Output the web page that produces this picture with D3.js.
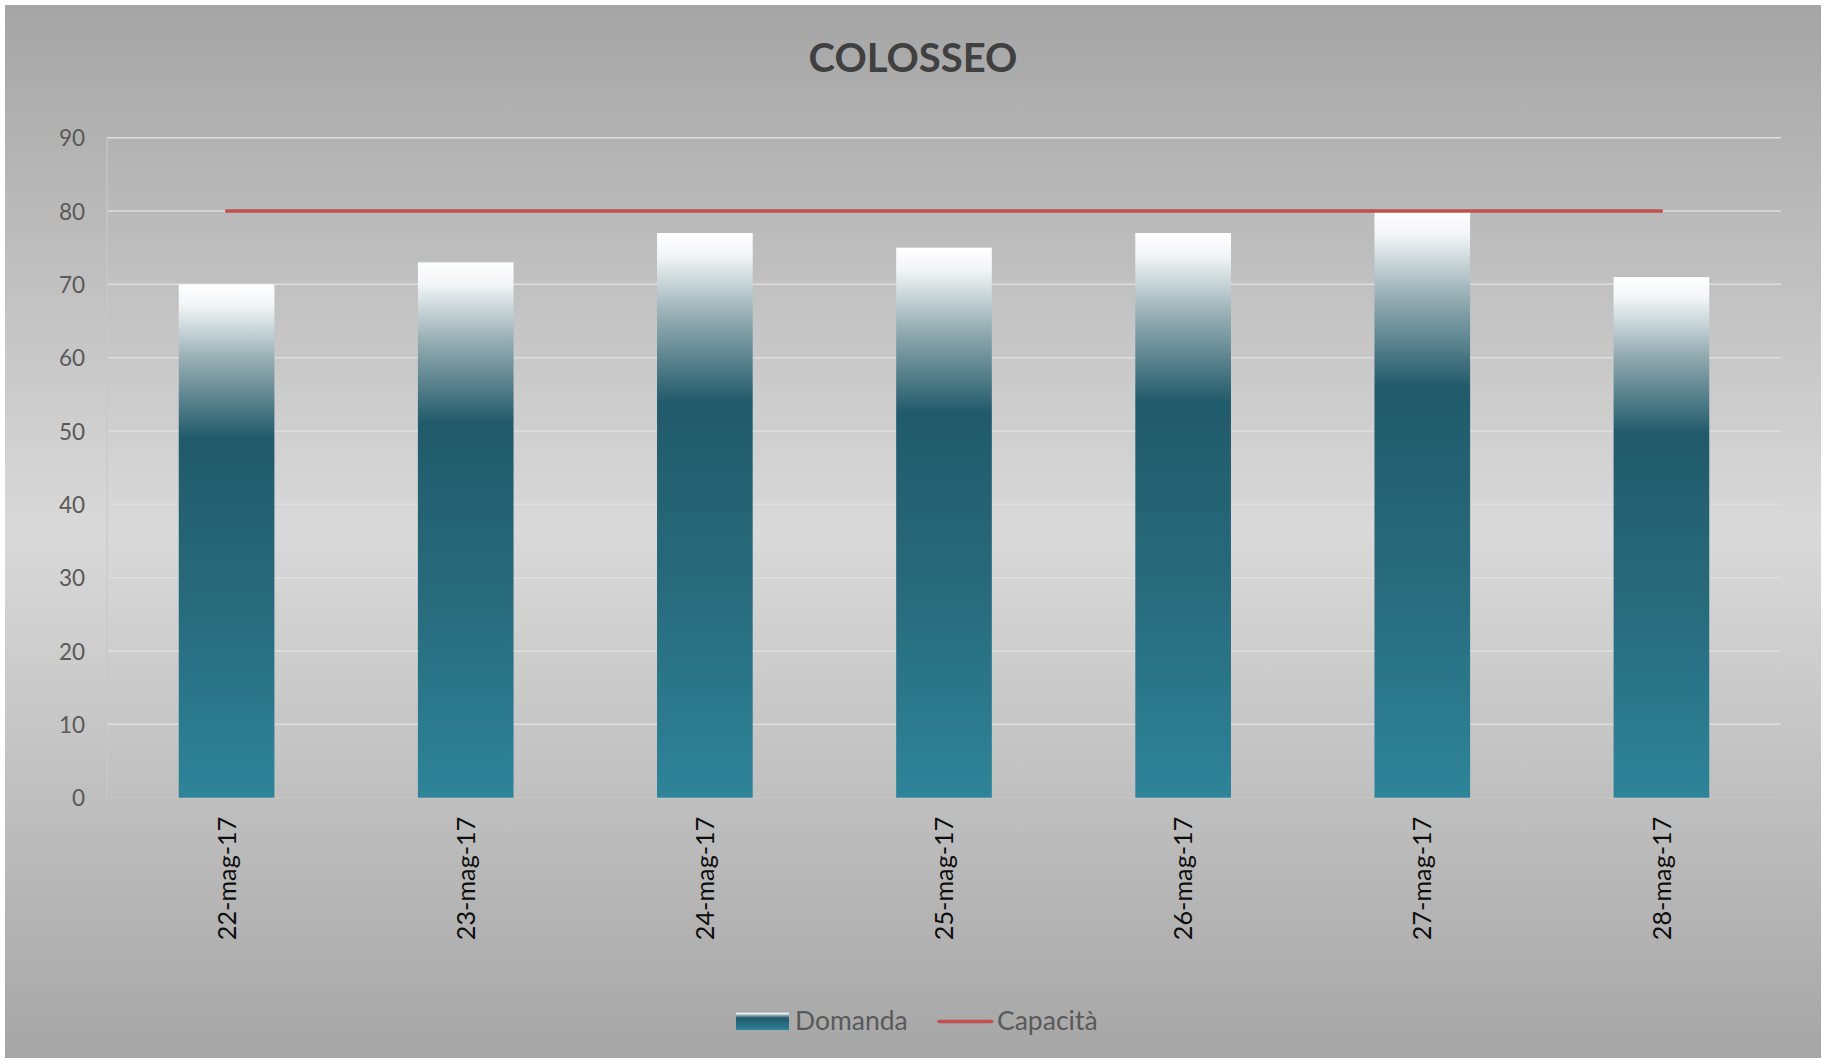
<!DOCTYPE html>
<html>
<head>
<meta charset="utf-8">
<script src="https://cdn.jsdelivr.net/npm/d3@7"></script>
<style>
  html, body { margin: 0; padding: 0; background: #ffffff; }
  svg { display: block; }
  text { font-family: Lato, "Open Sans", "DejaVu Sans", sans-serif; }
</style>
</head>
<body>
<svg id="chart" width="1825" height="1060"></svg>
<script>
// ---- data ----
const chartTitle = "COLOSSEO";
const categories = ["22-mag-17", "23-mag-17", "24-mag-17", "25-mag-17", "26-mag-17", "27-mag-17", "28-mag-17"];
const domanda = [70, 73, 77, 75, 77, 80, 71];
const capacita = [80, 80, 80, 80, 80, 80, 80];
const yTicks = [0, 10, 20, 30, 40, 50, 60, 70, 80, 90];
const seriesNames = ["Domanda", "Capacità"];

// ---- layout ----
const W = 1825, H = 1060;
const plot = { left: 107, right: 1781, top: 137.7, bottom: 797.7 };

const svg = d3.select("#chart");
const defs = svg.append("defs");

// background gradient
const bg = defs.append("linearGradient").attr("id", "bgGrad")
  .attr("x1", 0).attr("y1", 0).attr("x2", 0).attr("y2", 1);
bg.append("stop").attr("offset", 0).attr("stop-color", "#a5a5a5");
bg.append("stop").attr("offset", 0.5).attr("stop-color", "#d9d9d9");
bg.append("stop").attr("offset", 1).attr("stop-color", "#a6a6a6");

// bar gradient
const bgr = defs.append("linearGradient").attr("id", "barGrad")
  .attr("x1", 0).attr("y1", 0).attr("x2", 0).attr("y2", 1);
[[0, "#ffffff"], [0.04, "#f2f5f6"], [0.15, "#93abb1"], [0.30, "#215a6a"], [0.65, "#286c7e"], [1, "#2e8499"]]
  .forEach(([o, c]) => bgr.append("stop").attr("offset", o).attr("stop-color", c));

svg.append("rect").attr("x", 5).attr("y", 5).attr("width", 1816).attr("height", 1053)
  .attr("fill", "url(#bgGrad)");

// scales
const x = d3.scaleBand().domain(categories)
  .range([plot.left, plot.right]).paddingInner(0.6).paddingOuter(0.3);
const y = d3.scaleLinear().domain([0, 90]).range([plot.bottom, plot.top]);

// gridlines
svg.append("g").selectAll("line").data(yTicks.filter(t => t > 0)).join("line")
  .attr("x1", plot.left).attr("x2", plot.right)
  .attr("y1", d => y(d)).attr("y2", d => y(d))
  .attr("stroke", "#dedede").attr("stroke-width", 1.5);

// axes lines
svg.append("line").attr("x1", plot.left).attr("x2", plot.left)
  .attr("y1", plot.top).attr("y2", plot.bottom)
  .attr("stroke", "#c8c8c8").attr("stroke-width", 1.2);
svg.append("line").attr("x1", plot.left).attr("x2", plot.right)
  .attr("y1", plot.bottom).attr("y2", plot.bottom)
  .attr("stroke", "#c4c4c4").attr("stroke-width", 1.5);

// y axis labels
const yAxis = d3.axisLeft(y).tickValues(yTicks).tickSize(0).tickPadding(22);
const yg = svg.append("g").attr("transform", `translate(${plot.left},0)`).call(yAxis);
yg.select(".domain").remove();
yg.selectAll("text").attr("fill", "#595959").attr("font-size", 22.5)
  .attr("font-family", "Lato, 'Open Sans', sans-serif").attr("dy", "0.36em");

// bars
svg.append("g").selectAll("rect").data(domanda).join("rect")
  .attr("x", (d, i) => x(categories[i]))
  .attr("width", x.bandwidth())
  .attr("y", d => y(d))
  .attr("height", d => y(0) - y(d))
  .attr("fill", "url(#barGrad)");

// capacity line
const line = d3.line()
  .x((d, i) => x(categories[i]) + x.bandwidth() / 2)
  .y(d => y(d));
svg.append("path").datum(capacita).attr("d", line)
  .attr("fill", "none").attr("stroke", "#c0504d").attr("stroke-width", 3.5)
  .attr("stroke-linecap", "round");

// x labels (rotated)
const xAxis = d3.axisBottom(x).tickSize(0).tickPadding(0);
const xg = svg.append("g").attr("transform", `translate(0,${plot.bottom})`).call(xAxis);
xg.select(".domain").remove();
xg.selectAll("text")
  .attr("fill", "#0d0d0d").attr("font-size", 25.2)
  .attr("font-family", "Lato, 'Open Sans', sans-serif")
  .attr("text-anchor", "end")
  .attr("transform", "translate(0,19) rotate(-90)")
  .attr("x", 0).attr("y", 0).attr("dy", "0.36em");

// title
svg.append("text").attr("x", 913).attr("y", 71.7)
  .attr("text-anchor", "middle").attr("font-size", 40).attr("font-weight", "bold")
  .attr("fill", "#404040").text(chartTitle);

// legend
const lg = svg.append("g");
lg.append("rect").attr("x", 736).attr("y", 1012.7).attr("width", 53).attr("height", 17.3)
  .attr("fill", "url(#barGrad)");
lg.append("text").attr("x", 795).attr("y", 1030).attr("font-size", 26.5)
  .attr("fill", "#595959").text(seriesNames[0]);
lg.append("line").attr("x1", 939).attr("x2", 991.7).attr("y1", 1021.5).attr("y2", 1021.5)
  .attr("stroke", "#c0504d").attr("stroke-width", 3.5).attr("stroke-linecap", "round");
lg.append("text").attr("x", 997).attr("y", 1030).attr("font-size", 26.5)
  .attr("fill", "#595959").text(seriesNames[1]);
</script>
</body>
</html>
